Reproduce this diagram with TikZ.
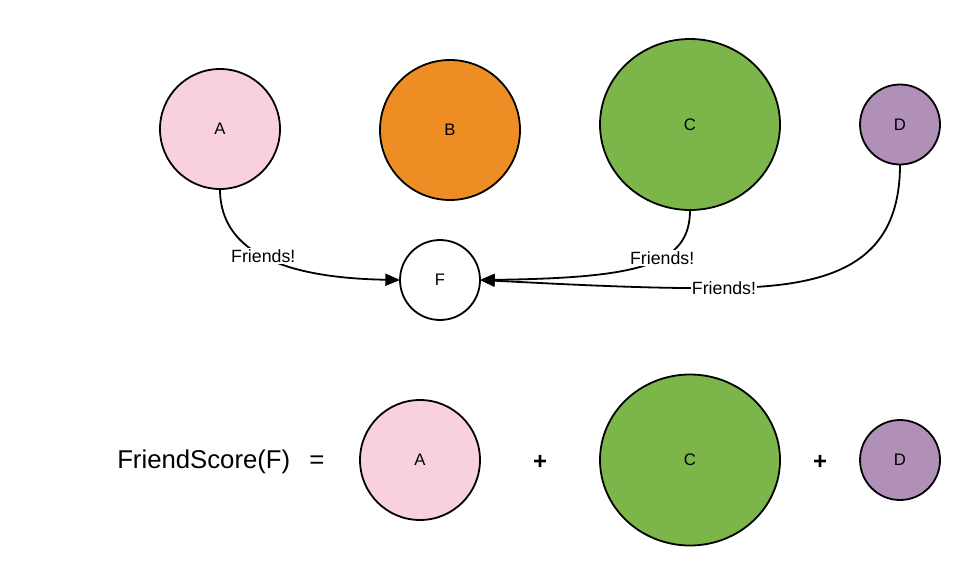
\documentclass[tikz,border=0pt]{standalone}
\usepackage{fontspec}
\setmainfont{Liberation Sans}
\usetikzlibrary{shapes.geometric,arrows.meta}
\definecolor{pinkA}{HTML}{F8D1DC}
\definecolor{orangeB}{HTML}{EE8D24}
\definecolor{greenC}{HTML}{7CB64A}
\definecolor{purpleD}{HTML}{B090B6}
\begin{document}
\begin{tikzpicture}[x=0.75pt,y=-0.75pt,
  ball/.style={circle,draw=black,line width=1.35pt,inner sep=0pt,outer sep=0pt,font=\fontsize{12.5}{14}\selectfont},
  egg/.style={ellipse,draw=black,line width=1.35pt,inner sep=0pt,outer sep=0pt,font=\fontsize{12.5}{14}\selectfont},
  link/.style={line width=1.35pt,-{Triangle[length=11pt,width=9pt]}},
  lbl/.style={fill=white,inner sep=1pt,font=\fontsize{13.3}{15}\selectfont},
  bigtxt/.style={inner sep=0pt,font=\fontsize{19.3}{22}\selectfont},
  plus/.style={inner sep=0pt,font=\bfseries\fontsize{18}{20}\selectfont}]
\useasboundingbox (0,0) rectangle (980,585);
% top row
\node[ball,fill=pinkA,minimum size=90pt] (A) at (220,129) {A};
\node[ball,fill=orangeB,minimum size=105pt] (B) at (450,130) {B};
\node[egg,fill=greenC,minimum width=135pt,minimum height=128.25pt] (C) at (690,124.5) {C};
\node[ball,fill=purpleD,minimum size=60pt] (D) at (900,124.5) {D};
\node[ball,fill=white,minimum size=60pt] (F) at (440,280) {F};
\coordinate (Dbend) at (724,288);
% connectors
\draw[link] (A.south) .. controls (220,255) and (290,278) .. node[lbl,pos=0.47]{Friends!} (F.west);
\draw[link] (C.south) .. controls (690,265) and (640,278) .. node[lbl,pos=0.4]{Friends!} (F.east);
\draw[link] (D.south) .. controls (900,265) and (830,287) .. (Dbend) .. controls (650,289) and (560,284) .. (F.east);
\node[lbl] (Dlbl) at (Dbend) {Friends!};
% bottom row
\node[bigtxt,anchor=west] (FS) at (117,462) {FriendScore(F)};
\node[bigtxt] (eq) at (317,462) {=};
\node[ball,fill=pinkA,minimum size=90pt] (A2) at (420,460) {A};
\node[plus] (p1) at (540,462) {+};
\node[egg,fill=greenC,minimum width=135pt,minimum height=128.25pt] (C2) at (690,460) {C};
\node[plus] (p2) at (820,462) {+};
\node[ball,fill=purpleD,minimum size=60pt] (D2) at (900,460) {D};
\end{tikzpicture}
\end{document}
